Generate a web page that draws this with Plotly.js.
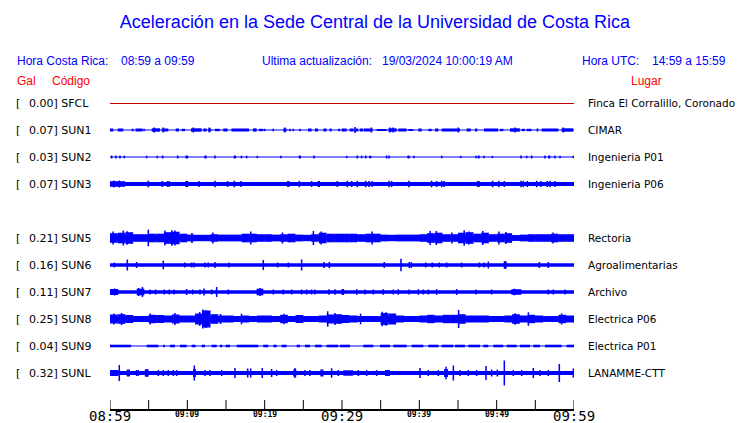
<!DOCTYPE html>
<html><head><meta charset="utf-8">
<script src="https://cdn.plot.ly/plotly-3.0.1.min.js"></script>
<style>html,body{margin:0;padding:0;background:#fff}#chart{width:740px;height:423px}</style>
</head><body><div id="chart"></div>
<script>
// ---------------- data ----------------
const codes  = ['SFCL','SUN1','SUN2','SUN3','SUN5','SUN6','SUN7','SUN8','SUN9','SUNL'];
const gal    = [0.00, 0.07, 0.03, 0.07, 0.21, 0.16, 0.11, 0.25, 0.04, 0.32];
const places = ['Finca El Corralillo, Coronado','CIMAR','Ingenieria P01','Ingenieria P06',
                'Rectoria','Agroalimentarias','Archivo','Electrica P06','Electrica P01','LANAMME-CTT'];
const rowSlot = [0,1,2,3,5,6,7,8,9,10];
// half band thickness (px) of each trace's continuous noise
const baseAmp = [0, 0.5, 0.5, 2, 2.8, 1.8, 1.8, 2.8, 0.5, 2];

// minutes after 08:59 ; [start, end, half-amplitude px]
const sun1Blocks = [[0,0.43,1.5],[1,1.72,1.5],[2.8,3.05,1.3],[3.3,4.2,1.5],[5.4,6.46,1.7],[6.68,7.54,1.5],[8.5,8.92,1.5],[9.26,9.7,1.2],
  [10.47,11.85,1.7],[12.07,12.5,1.5],[12.7,13.1,1.5],[13.57,14.2,1.2],[14.65,15.2,1.5],[15.7,17.97,1.5],[18.5,18.96,1.7],[19.26,19.82,1.2],
  [22.4,22.84,1.5],[25.6,26.07,1.5],[26.5,26.9,1.5],[27.6,28,1.5],[28.4,28.66,1.5],[29.5,29.74,1.2],[29.96,30.6,1.5],[31,31.5,1.5],
  [31.68,32.1,1.5],[32.3,32.76,1.5],[32.84,33.96,1.5],[34.48,35.77,1],[36,37.07,1.7],[37.28,38.36,1.5],[38.58,39.22,1],[39.87,40.3,1.5],
  [41.16,41.6,1.2],[42.03,42.46,1.5],[42.9,45.26,1.5],[46.12,46.64,1.5],[47.2,47.5,1.5],[48.36,50.2,1.5],[50.43,50.86,1.2],[51.72,53,1.7],
  [53.23,53.66,1.2],[53.88,54.5,1.2],[55.17,55.39,1.5],[55.82,57.97,1.5],[58.4,59.9,1.7]];
const sun1Spikes = [[4.4,1.3],[5.73,2.5],[6.9,2.5],[10.77,2.5],[12.84,2.5],[20,1.2],[21.1,1.2],[22.6,2.5],[23.27,1.2],[23.7,1.2],[24.56,1.2],
  [31.68,3],[33.8,2.5],[36.2,2.5],[36.6,2.5],[45.04,2.5],[52.37,2.5],[58.62,2.5]];

const sun2Blocks = [[9.75,10.1,1.5],[12.2,12.5,1.5],[16,16.3,1.5],[24.4,24.7,1.5],[33.5,33.8,1.3],[38.45,38.75,1.5],[47.55,47.8,1.5],[56.65,56.95,1.5]];
const sun2Spikes = [[0.21,1.5],[0.77,1.5],[1.29,1.5],[1.85,1.3],[4.74,1.3],[6.12,1.3],[6.81,1.5],[8.75,1.5],[13.57,1.5],[17,1.3],[17.67,1.3],
  [19.05,1.2],[22.11,1.2],[26.38,1.5],[30.6,1.2],[31.98,1.5],[32.54,1.3],[33.06,1.5],[35.77,1.5],[36.08,1.5],[39.31,1.3],[42.89,1.3],
  [45.34,1.2],[47.33,1.3],[48.36,1.3],[49.44,1.2],[53.15,1.5],[53.88,1.3],[54.52,1.5],[56.25,1.5],[57.54,1.5],[58.19,1.3],[59.91,1.3]];

const sun3Blocks = [[0,1.94,2.8],[9.75,10.1,3],[22.9,23.2,3],[26.85,27.15,3],[47.45,47.8,3]];
const sun3Spikes = [[0.5,3.5],[1.2,3.5],[4.95,3.3],[6.76,3],[7.45,3],[7.67,3],[11.5,3],[13.57,3.3],[15.2,3],[16.07,3.3],[16.94,3],[24.48,3.2],
  [26.07,3],[29.39,3],[30.69,3.3],[31.25,3],[31.98,3.3],[33.06,3.3],[33.49,3],[33.92,3],[36.08,3.3],[36.42,3],[38.66,3.3],[41.59,3.3],
  [42.24,3],[42.89,3.3],[43.19,3],[49.48,3.3],[50.3,3.3],[50.99,3],[53.15,3.3],[53.45,3.3],[53.96,3],[55.17,3.3],[55.69,3],[56.55,3],
  [56.9,3.3],[57.54,3]];

// per-minute envelope half-amplitudes (px), minute 0..59
const sun5Env = [4.8,5.3,5.8,3.8,3.8,4.3,4.3,5.8,6.3,4.3,3.4,3.2,3.2,3.8,3.4,3.4,3.4,4.3,4.3,3.8,3.8,3.4,3.8,4.3,3.4,3.2,3.8,5.3,4.3,4.3,
                 4.3,4.3,3.8,4.3,4.3,3.4,3.2,3.4,3.4,3.4,3.8,4.8,5.3,3.8,3.8,5.3,5.8,4.3,5.3,3.8,4.3,4.8,2.8,3.4,3.8,3.8,3.8,4.3,3.8,3.8];
const sun5Spikes = [[0.4,6.5],[1.72,7.5],[2.2,6.8],[4.95,8.3],[7.1,7.5],[8,7.7],[8.4,7.5],[10.6,5],[13.3,5.5],[18.2,6.5],[22.3,5.5],
  [26.3,7],[27.3,6.5],[33.9,6.5],[41.4,7],[42.2,7],[44.2,5.5],[45.8,7.7],[46.4,6.5],[48.2,7],[50.3,6.5],[51.2,6],[57.3,5.5]];

const sun6Blocks = [[50.9,51.3,3.5]];
const sun6Spikes = [[0.56,2.5],[2.24,5.5],[3.44,3],[6.89,4.3],[9.69,2.5],[10.56,2.5],[10.86,2.5],[12.28,2.5],[12.71,2.5],[13.57,3],
  [15.38,2.5],[19.82,5],[21.68,2.5],[23.06,2.5],[24.78,5.5],[27.67,3],[28.36,3],[35.47,3],[37.63,6.3],[38.7,3],[38.96,3],[40.82,2.5],
  [41.68,2.5],[42.58,2.5],[43.53,2.5],[45.47,2.5],[47.76,2.5],[48.36,2.5],[48.92,3.5],[51.08,4],[55.52,3],[56.68,3]];

const sun7Blocks = [[0,1.07,3],[3.45,4.44,3.3],[18.96,19.82,3.3],[51.9,53.2,2.8]];
const sun7Spikes = [[0.6,3.5],[4.2,5],[3.7,4],[5.17,2.5],[5.9,2.5],[7.02,2.5],[7.67,2.5],[8.27,2.5],[9.91,3],[10.69,2.5],[11.63,2.5],
  [12.15,3.5],[13.14,2.5],[13.79,5],[15.3,2.5],[19.4,4],[21.12,2.5],[22.41,2.5],[23.49,2.5],[24.78,2.5],[25.43,2.5],[26.07,2.5],
  [26.5,2.5],[28.32,2.8],[29.09,2.8],[30.04,3],[30.17,3],[31.9,2.8],[32.97,2.5],[34.05,2.5],[35.34,2.8],[36.64,2.5],[37.28,2.8],
  [38.66,2.5],[39.87,2.8],[40.52,2.5],[41.16,2.5],[42.24,2.8],[44.83,3],[47.33,2.5],[49.35,2.5],[52.3,3.3],[56.68,2.5],[57.33,2.5],[58.84,2.5]];

const sun8Env = [4.5,4.8,4,3,3,4.2,4,3.5,4.5,3.5,3.5,5.5,8.5,4.8,3.5,3.5,3,3.5,3,3.5,3.5,3,4.2,3,4,3,3,3.5,4.5,4.8,
                 4,3.5,3,3,2.8,6,5.5,3.5,3,3,3.5,4.2,3.5,4.2,4.2,4.8,3.5,3.5,3.5,3,3,3.5,4.8,3.5,4.2,3.5,2.8,3,4.2,3.5];
const sun8Spikes = [[0.5,5.5],[1.5,6],[5.2,5.5],[8.4,6],[11.6,7],[12,9.5],[12.4,9],[12.8,7.5],[14.3,5],[17,5.3],[22.5,5.3],[28.15,7.7],
  [29.1,6],[32.4,5.3],[35.2,7.3],[35.7,6.8],[45.08,9],[52.4,5.8],[54.1,6.7],[58.4,5.5]];

const sun9Blocks = [[0,2.71,1.3],[4.74,6.25,1.3],[6.89,7.11,1.3],[7.75,8.4,1.3],[9.05,9.91,1.3],[10.56,11.07,1.3],[11.85,12.28,1.3],
  [13.14,13.79,1.3],[14.22,14.52,1.3],[14.95,15.51,1.3],[16.38,19.18,1.3],[19.82,20.47,1.3],[21.12,21.55,1.3],[22.2,22.84,1.3],
  [24.13,24.56,1.3],[25.21,25.86,1.3],[26.5,27.37,1.3],[28,29.52,1.3],[29.74,31.03,1.3],[32.76,34.05,1.3],[34.91,36.21,1.3],
  [36.64,38.36,1.3],[39.01,40.52,1.3],[41.16,42.46,1.3],[42.89,44.4,1.3],[44.61,45.9,1.3],[46.33,47.84,1.3],[48.27,48.92,1.3],
  [49.57,50.86,1.3],[51.29,52.58,1.3],[53.02,54.31,1.3],[54.74,55.6,1.3],[56.25,58.4,1.3],[59.05,60,1.3]];
const sun9Spikes = [];

const sunlBlocks = [[0,1.07,3],[2.15,2.58,3.5],[4.5,5,3.7],[10.75,11.1,4],[23.7,24.1,3.5],[27.2,27.6,3.5],[30.17,31.46,2.7],[35.56,36.21,3],
  [43.2,43.7,4]];
const sunlSpikes = [[1.2,8],[3.44,3],[3.66,3],[4.74,3.7],[6.25,3],[6.89,3],[7.54,3],[8.19,3],[8.62,3],[10.9,7.5],[12.28,3],[12.93,3],
  [14.44,3],[16.16,5],[17.8,4.5],[18.19,4.5],[19.69,5],[20.9,4],[21.55,3],[23.92,5],[25.21,3],[25.86,3],[28.66,4.7],[29.52,3],
  [32.11,3],[33.19,3],[34.48,3],[40.09,5],[41.16,3],[42.46,3],[43.45,6.3],[44.4,7.5],[45.26,3],[46.33,3],[47.41,3],[48.62,7],
  [49.35,3.5],[50.09,3.5],[50.99,12.5],[52.15,3],[53.23,3],[54.74,5],[55.6,3],[56.68,3],[58.1,9],[59.91,4.5]];

const blocksByRow = [[], sun1Blocks, sun2Blocks, sun3Blocks, [], sun6Blocks, sun7Blocks, [], sun9Blocks, sunlBlocks];
const spikesByRow = [[], sun1Spikes, sun2Spikes, sun3Spikes, sun5Spikes, sun6Spikes, sun7Spikes, sun8Spikes, sun9Spikes, sunlSpikes];
const envByRow    = [null, null, null, null, sun5Env, null, null, sun8Env, null, null];

const tickPos    = [0,5,10,15,20,25,30,35,40,45,50,55,60];
const labelPos   = [0,10,20,30,40,50,60];
const labelText  = ['08:59','09:09','09:19','09:29','09:39','09:49','09:59'];
const labelMajor = [true,false,false,true,false,false,true];

// ---------------- layout constants ----------------
const W = 740, H = 423;
const PL = 110, PR = 574, PT = 90, PB = 409;     // plot area in px
const ROW0 = 103, PITCH = 27;                    // row centres
const BLUE = '#0000ff', RED = '#c00000';
const spikeW = 0.2;
const px = x => (x - PL) / (PR - PL);
const py = y => (PB - y) / (PB - PT);

const traces = [];
codes.forEach((c, i) => {
  const yc = ROW0 + PITCH * rowSlot[i];
  if (c === 'SFCL') {
    traces.push({type:'scatter', mode:'lines', x:[0,60], y:[yc+0.5,yc+0.5],
      line:{color:RED, width:1}, hoverinfo:'skip', showlegend:false});
    return;
  }
  const X = [], Wd = [], B = [], Y = [];
  const add = (s, e, a) => { X.push((s+e)/2); Wd.push(e-s); B.push(yc - a); Y.push(2*a); };
  add(0, 60, baseAmp[i]);
  const env = envByRow[i];
  if (env) env.forEach((a, m) => add(m, m+1, a));
  blocksByRow[i].forEach(b => add(b[0], b[1], b[2]));
  spikesByRow[i].forEach(s => add(s[0]-spikeW/2, s[0]+spikeW/2, s[1]));
  traces.push({type:'bar', x:X, width:Wd, base:B, y:Y,
    marker:{color:BLUE, line:{width:0}}, hoverinfo:'skip', showlegend:false});
});

const ann = [];
const A = (text, x, y, opt) => ann.push(Object.assign({text, x:px(x), y:py(y), xref:'paper', yref:'paper',
  showarrow:false, xanchor:'left', yanchor:'middle',
  font:{family:'Liberation Sans, Arial, sans-serif', size:12, color:BLUE}}, opt||{}));

A('Hora Costa Rica:', 15, 61); A('08:59 a 09:59', 119, 61);
A('Ultima actualización:', 260, 61); A('19/03/2024 10:00:19 AM', 380, 61);
A('Hora UTC:', 580, 61); A('14:59 a 15:59', 650, 61);
const redF = {family:'Liberation Sans, Arial, sans-serif', size:12, color:'#ff0000'};
A('Gal', 15, 81, {font:redF}); A('Código', 50, 81, {font:redF}); A('Lugar', 629, 81, {font:redF});

const lblF = {family:'DejaVu Sans, sans-serif', size:11, color:'#000'};
codes.forEach((c, i) => {
  const yc = ROW0 + PITCH * rowSlot[i];
  A('[', 14, yc, {font:lblF});
  A(gal[i].toFixed(2) + '] ' + c, 27, yc, {font:lblF});
  A(places[i], 586, yc, {font:{family:'DejaVu Sans, sans-serif', size:10.5, color:'#000'}});
});
labelPos.forEach((p, k) => {
  const maj = labelMajor[k];
  ann.push({text: maj ? labelText[k] : '<b>'+labelText[k]+'</b>', x:p, y:py(maj ? 415.5 : 414.5), xref:'x', yref:'paper',
    showarrow:false, xanchor:'center', yanchor:'middle',
    font:{family:'DejaVu Sans Mono, monospace', size: maj ? 14 : 8, color:'#000'}});
});

const shapes = tickPos.map(t => ({type:'line', xref:'x', yref:'y', x0:t, x1:t, y0:PB-9, y1:PB,
  line:{color:'#000', width:1}}));

const layout = {
  width:W, height:H, paper_bgcolor:'#fff', plot_bgcolor:'#fff',
  margin:{l:PL, r:W-PR, t:PT, b:H-PB, pad:0},
  title:{text:'Aceleración en la Sede Central de la Universidad de Costa Rica',
    font:{family:'Liberation Sans, Arial, sans-serif', size:18, color:BLUE},
    x:375/W, xref:'container', xanchor:'center', y:1-22/H, yref:'container', yanchor:'middle'},
  barmode:'overlay', hovermode:false, showlegend:false,
  xaxis:{range:[0,60], showgrid:false, zeroline:false, showline:true, linecolor:'#000', linewidth:1.5,
    ticks:'', showticklabels:false, fixedrange:true, automargin:false},
  yaxis:{range:[PB, PT], showgrid:false, zeroline:false, showline:false, showticklabels:false, ticks:'',
    fixedrange:true, automargin:false},
  shapes:shapes,
  annotations:ann
};
Plotly.newPlot('chart', traces, layout, {displayModeBar:false, staticPlot:true});
</script></body></html>
